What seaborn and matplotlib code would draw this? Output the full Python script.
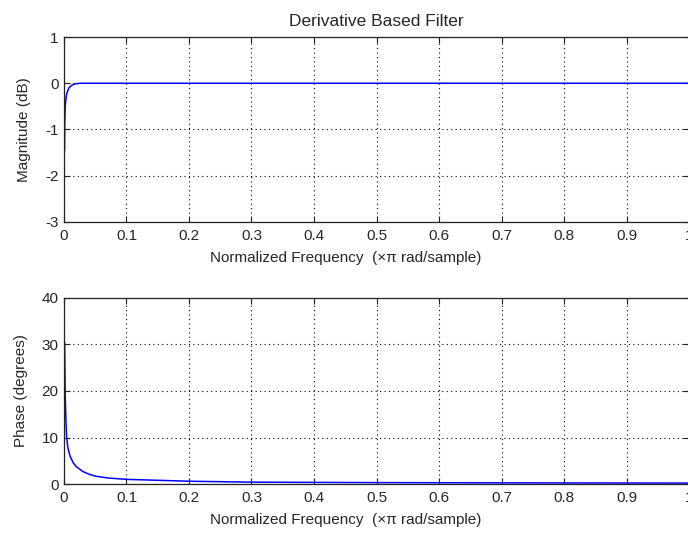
import matplotlib
matplotlib.use("Agg")
import matplotlib.pyplot as plt
import seaborn as sns
import pandas as pd

# values (normalized frequency, x pi rad/sample)
mag_freq = [0.0, 0.001, 0.0012, 0.002, 0.003, 0.004, 0.006, 0.008, 0.01, 0.013, 0.016, 0.02, 0.025, 0.1, 0.5, 1.0]
mag_db = [-1.45, -1.45, -0.9, -0.5, -0.35, -0.25, -0.16, -0.1, -0.07, -0.04, -0.02, -0.01, 0.0, 0.0, 0.0, 0.0]

phase_freq = [0.001, 0.0015, 0.002, 0.003, 0.004, 0.006, 0.008, 0.01, 0.015, 0.02, 0.03, 0.04,
              0.05, 0.07, 0.1, 0.15, 0.2, 0.3, 0.5, 0.7, 1.0]
phase_deg = [30.5, 25.0, 19.0, 14.0, 10.5, 8.0, 6.8, 5.9, 4.5, 3.7, 2.7, 2.1,
             1.7, 1.3, 1.0, 0.8, 0.6, 0.4, 0.3, 0.25, 0.2]

x_ticks = [0, 0.1, 0.2, 0.3, 0.4, 0.5, 0.6, 0.7, 0.8, 0.9, 1]
x_ticklabels = ["0", "0.1", "0.2", "0.3", "0.4", "0.5", "0.6", "0.7", "0.8", "0.9", "1"]
mag_ticks = [-3, -2, -1, 0, 1]
phase_ticks = [0, 10, 20, 30, 40]

sns.set_style("ticks")
plt.rcParams['font.family'] = ['Liberation Sans', 'DejaVu Sans']
plt.rcParams['xtick.direction'] = 'in'
plt.rcParams['ytick.direction'] = 'in'

fig = plt.figure(figsize=(6.88, 5.34), dpi=100)
ax1 = fig.add_axes([0.093, 0.5843, 0.9085, 0.3464])
ax2 = fig.add_axes([0.093, 0.0936, 0.9085, 0.3484])

mag_df = pd.DataFrame({'freq': mag_freq, 'mag': mag_db})
phase_df = pd.DataFrame({'freq': phase_freq, 'phase': phase_deg})

sns.lineplot(data=mag_df, x='freq', y='mag', ax=ax1, color='#0000ff', linewidth=1.1)
sns.lineplot(data=phase_df, x='freq', y='phase', ax=ax2, color='#0000ff', linewidth=1.1)

for ax, yt in [(ax1, mag_ticks), (ax2, phase_ticks)]:
    ax.set_xlim(0, 1)
    ax.set_ylim(yt[0], yt[-1])
    ax.set_xticks(x_ticks)
    ax.set_xticklabels(x_ticklabels, fontsize=11)
    ax.set_yticks(yt)
    ax.set_yticklabels([str(v) for v in yt], fontsize=11)
    ax.grid(True, linestyle=(0, (1, 3)), color='black', linewidth=0.8)
    for s in ax.spines.values():
        s.set_visible(True)
        s.set_color('#222222')
        s.set_linewidth(0.9)
    ax.tick_params(top=True, right=True, length=4, width=0.8, color='#222222')
    ax.tick_params(axis='x', pad=5)
    ax.tick_params(axis='y', pad=4)
    # label sits left of the axes centre in the reference
    ax.set_xlabel('Normalized Frequency  (\u00d7\u03c0 rad/sample)', fontsize=11, labelpad=6, x=0.451)

ax1.set_ylabel('Magnitude (dB)', fontsize=11, labelpad=10)
ax2.set_ylabel('Phase (degrees)', fontsize=11, labelpad=10)
ax1.set_title('Derivative Based Filter', fontsize=12.5, pad=8)

fig.savefig('out.png', dpi=100)
